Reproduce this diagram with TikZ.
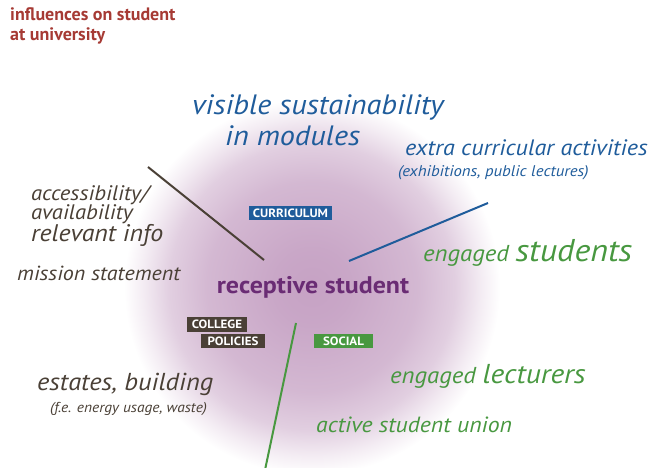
\documentclass[tikz,border=0pt]{standalone}
\usepackage{fontspec}
\setmainfont{PT Sans}
\newfontfamily\wide{PT Sans}[FakeStretch=1.08]
\definecolor{titlered}{RGB}{166,58,52}
\definecolor{ublue}{RGB}{31,92,155}
\definecolor{ugreen}{RGB}{72,152,64}
\definecolor{ubrown}{RGB}{74,64,54}
\definecolor{upurple}{RGB}{106,44,116}
\definecolor{glow}{RGB}{198,162,196}
\pgfdeclareradialshading{glowshade}{\pgfpoint{0bp}{0bp}}{color(0bp)=(glow); color(5bp)=(glow!95!white); color(14bp)=(glow!76!white); color(19bp)=(glow!52!white); color(22.5bp)=(glow!20!white); color(25bp)=(white); color(50bp)=(white)}
\begin{document}
\begin{tikzpicture}[x=1pt,y=-1pt,
  lbl/.style={inner sep=0pt,anchor=base west},
  tag/.style={inner sep=0pt,minimum height=14.5pt,text=white,font=\wide\bfseries\fontsize{12}{12}\selectfont}]
\useasboundingbox (0,0) rectangle (649,468);
\begin{scope}
\clip (0,0) rectangle (649,468);
\shade[shading=glowshade] (312,287) circle (188);
\end{scope}
% title
\node[anchor=north west,inner sep=0pt,align=left,text=titlered,font=\bfseries\fontsize{18}{20.5}\selectfont] (title) at (10,7) {influences on student\\at university};
% top blue
\node[lbl,text=ublue,font=\wide\itshape\fontsize{28}{28}\selectfont] (vis) at (192,115) {visible sustainability};
\node[lbl,text=ublue,font=\wide\itshape\fontsize{28}{28}\selectfont] (mod) at (225,146) {in modules};
\node[lbl,text=ublue,font=\wide\itshape\fontsize{22.3}{22}\selectfont] (extra) at (405,156) {extra curricular activities};
\node[lbl,text=ublue,font=\wide\itshape\fontsize{15.5}{15}\selectfont] (exhib) at (398,177) {(exhibitions, public lectures)};
% green
\node[lbl,text=ugreen] (engs) at (423,262) {\wide\itshape\fontsize{23}{23}\selectfont engaged \fontsize{31.5}{31}\selectfont students};
\node[lbl,text=ugreen] (engl) at (390,384) {\wide\itshape\fontsize{23}{23}\selectfont engaged \fontsize{27.3}{27}\selectfont lecturers};
\node[lbl,text=ugreen,font=\wide\itshape\fontsize{22}{22}\selectfont] (union) at (316,432) {active student union};
% brown left
\node[lbl,text=ubrown,font=\wide\itshape\fontsize{21}{21}\selectfont] (acc) at (31,201) {accessibility/};
\node[lbl,text=ubrown,font=\wide\itshape\fontsize{21}{21}\selectfont] (avail) at (31,220) {availability};
\node[lbl,text=ubrown,font=\wide\itshape\fontsize{24}{24}\selectfont] (rel) at (31,242) {relevant info};
\node[lbl,text=ubrown,font=\wide\itshape\fontsize{20.4}{20}\selectfont] (mission) at (17,281) {mission statement};
\node[lbl,text=ubrown,font=\wide\itshape\fontsize{24.5}{24}\selectfont] (estates) at (37,391) {estates, building};
\node[lbl,text=ubrown,font=\wide\itshape\fontsize{14.3}{14}\selectfont] (fe) at (50,412) {(f.e. energy usage, waste)};
% centre
\node[inner sep=0pt,text=upurple,font=\wide\bfseries\fontsize{24}{24}\selectfont,anchor=base] (rec) at (313,294) {receptive student};
% tags
\node[tag,fill=ublue,minimum width=83pt] (curr) at (290.5,213) {CURRICULUM};
\node[tag,fill=ubrown,minimum width=60pt] (college) at (217,324.5) {COLLEGE};
\node[tag,fill=ubrown,minimum width=64pt] (pol) at (233,341) {POLICIES};
\node[tag,fill=ugreen,minimum width=59pt] (soc) at (343.5,341) {SOCIAL};
% lines
\coordinate (b1) at (148,167); \coordinate (b2) at (264,260);
\coordinate (u1) at (349,261); \coordinate (u2) at (488,203);
\coordinate (g1) at (296,323); \coordinate (g2) at (265,470);
\draw[ubrown,line width=2pt] (b1) -- (b2);
\draw[ublue,line width=2pt] (u1) -- (u2);
\draw[ugreen,line width=2pt] (g1) -- (g2);
\end{tikzpicture}
\end{document}
